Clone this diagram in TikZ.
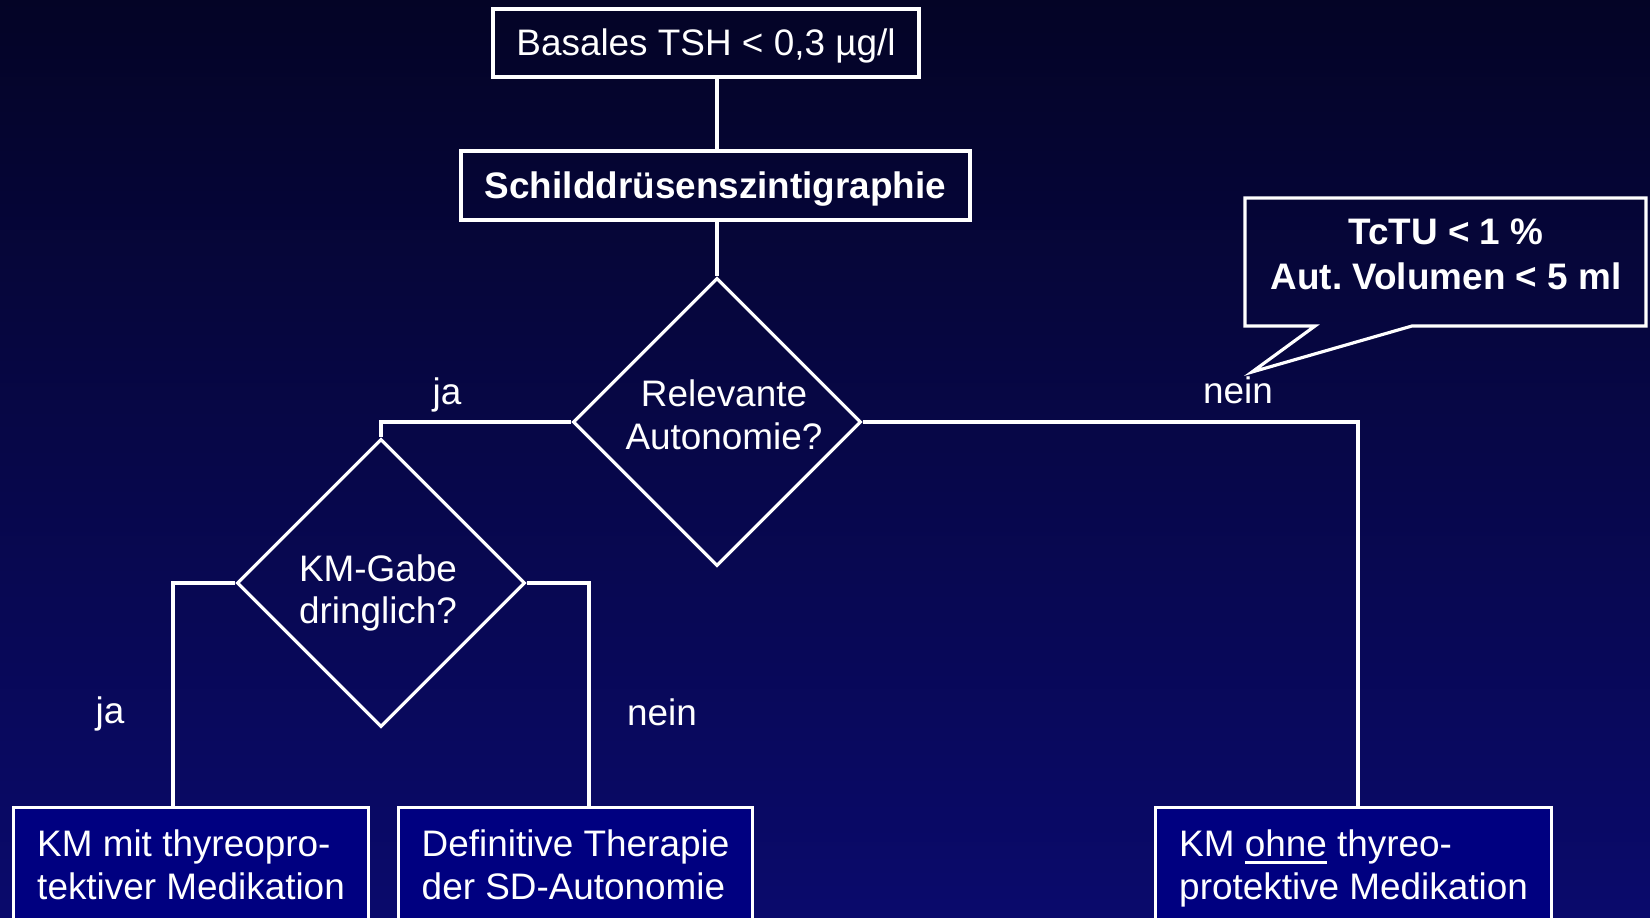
\documentclass[tikz,border=0pt]{standalone}
\usepackage{fontspec}
\setmainfont{Liberation Sans}
\usepackage{tikz}
\usetikzlibrary{shapes.geometric}

\definecolor{bgtop}{RGB}{4,4,38}
\definecolor{bgmid}{RGB}{1,1,72}
\definecolor{bgbot}{RGB}{10,10,108}
\definecolor{boxblue}{RGB}{0,0,128}
\newcommand{\slidefont}{\fontsize{21}{24.4}\selectfont}
\newcommand{\ulthick}[1]{\setbox0=\hbox{#1}\rlap{\vrule width\wd0 height -2.6pt depth 4.2pt}\copy0\relax}
\frenchspacing

\tikzset{
  conn/.style={draw=white, line width=1.8pt},
  topbox/.style={conn, text=white, font=\slidefont, inner sep=0pt, text height=0.52cm, text depth=0pt},
  decision/.style={diamond, aspect=1, conn, inner sep=0pt, minimum width=5.76cm, minimum height=5.76cm},
  question/.style={text=white, font=\slidefont, align=center},
  result/.style={conn, fill=boxblue, text=white, font=\slidefont, anchor=north west, align=left, inner xsep=0pt, inner ysep=0.44cm, text height=1.40cm, text depth=2cm},
  answer/.style={text=white, font=\slidefont, anchor=base}
}

\begin{document}
\begin{tikzpicture}[x=0.02cm, y=-0.02cm]
\useasboundingbox (0,0) rectangle (1650,918);
\shade[top color=bgtop, middle color=bgmid, bottom color=bgbot] (0,0) rectangle (1650,918);

\node[topbox, minimum width=8.52cm, minimum height=1.36cm] (tsh) at (706,43) {Basales TSH < 0,3 µg/l};
\node[topbox, font=\slidefont\bfseries, minimum width=10.18cm, minimum height=1.38cm] (szinti) at (715.5,185.5) {Schilddrüsenszintigraphie};
\node[decision] (auto) at (717,422) {};
\node[question] (autotext) at ([shift={(7,-7)}]auto.center) {Relevante\\Autonomie?};
\node[decision] (gabe) at (381,583) {};
\node[question] (gabetext) at ([shift={(-3,10)}]gabe.center) {KM-Gabe\\dringlich?};

\node[result, minimum width=7.1cm] (mit) at (12,806) {KM mit thyreopro-\\tektiver Medikation};
\node[result, minimum width=7.08cm] (defin) at (397,806) {Definitive Therapie\\der SD-Autonomie};
\node[result, minimum width=7.92cm] (ohne) at (1154,806) {KM \ulthick{ohne} thyreo-\\protektive Medikation};

\node[answer] (ja1) at (447,405) {ja};
\node[answer] (nein1) at (1238,404) {nein};
\node[answer] (ja2) at (110,723) {ja};
\node[answer] (nein2) at (662,725) {nein};

\coordinate (jaknick) at (173,583);
\coordinate (neinknick) at (589,583);
\coordinate (rechts) at (1358,422);
\coordinate (tip) at (1252,372);

\draw[conn] (tsh.south -| auto.north) -- (szinti.north -| auto.north);
\draw[conn] (szinti.south -| auto.north) -- (auto.north);
\draw[conn] (auto.west) -| (gabe.north);
\draw[conn] (auto.east) -- (rechts) -- (rechts |- ohne.north);
\draw[conn] (gabe.west) -- (jaknick) -- (jaknick |- mit.north);
\draw[conn] (gabe.east) -- (neinknick) -- (neinknick |- defin.north);

\node[text=white, font={\fontsize{21}{25.5}\selectfont\bfseries}, align=center] (tctu) at (1446,254) {TcTU < 1 \%\\Aut. Volumen < 5 ml};
\draw[conn] (1245,198) -- (1646,198) -- (1646,326) -- (1412,326) -- (tip) -- (1315,326) -- (1245,326) -- cycle;
\end{tikzpicture}
\end{document}
